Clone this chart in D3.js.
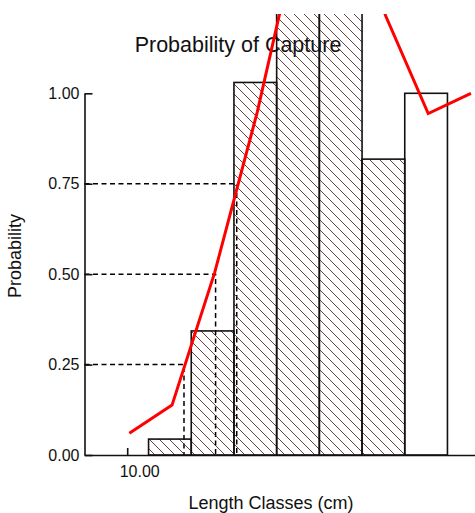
<!DOCTYPE html>
<html>
<head>
<meta charset="utf-8">
<script src="https://cdn.jsdelivr.net/npm/d3@7"></script>
<style>
  html, body { margin: 0; padding: 0; background: #fff; overflow: hidden; }
  text { font-family: "Liberation Sans", Arial, sans-serif; fill: #111; }
</style>
</head>
<body>
<svg id="chart" width="475" height="513"></svg>
<script>
// Length classes (cm) and observed proportions per class
const classMid = [11, 12, 13, 14, 15, 16, 17];
const classProb = [0.044, 0.343, 1.03, 1.6, 1.6, 0.818, 1.0];
const classHatched = [true, true, true, true, true, true, false];

// Fitted capture probability (red line)
const lineLen = [10.05, 11.05, 12.05, 13.05, 14.05, 15.05, 16.05, 17.05, 18.05];
const lineProb = [0.06, 0.138, 0.505, 0.95, 1.47, 1.6, 1.215, 0.944, 1.0];

// L25, L50, L75 markers
const markProb = [0.25, 0.5, 0.75];
const markLen = [11.33, 12.07, 12.565];

const yTicks = [0, 0.25, 0.5, 0.75, 1.0];
const xTicks = [10];

const svg = d3.select('#chart');

// scales - the chart runs past the window on the right and top
const x = d3.scaleLinear().domain([9, 20]).range([84.5, 554.2]);
const y = d3.scaleLinear().domain([0, 1]).range([455, 93.3]);

const defs = svg.append('defs');
defs.append('clipPath')
  .attr('id', 'plotClip')
  .append('rect')
  .attr('x', 0).attr('y', 14)
  .attr('width', 475).attr('height', 460);

const hatch = defs.append('pattern')
  .attr('id', 'hatch')
  .attr('patternUnits', 'userSpaceOnUse')
  .attr('width', 10)
  .attr('height', 10);
hatch.append('path')
  .attr('d', 'M0,0L10,10M-1,9L1,11M9,-1L11,1')
  .style('stroke', '#5a2a2a')
  .style('stroke-width', 0.9);

// title goes under the bars
svg.append('text')
  .attr('x', 238)
  .attr('y', 52)
  .attr('text-anchor', 'middle')
  .style('font-size', '21.5px')
  .text('Probability of Capture');

const plot = svg.append('g').attr('clip-path', 'url(#plotClip)');

// dashed guide lines for L25 / L50 / L75
markProb.forEach((p, i) => {
  plot.append('path')
    .attr('d', `M${x(9)},${y(p)}H${x(markLen[i])}V${y(0)}`)
    .style('fill', 'none')
    .style('stroke', '#000')
    .style('stroke-width', 1.5)
    .style('stroke-dasharray', '5,3.5');
});

// bars
plot.selectAll('rect.bar')
  .data(classMid)
  .enter()
  .append('rect')
  .classed('bar', true)
  .attr('x', d => x(d - 0.5))
  .attr('width', d => x(d + 0.5) - x(d - 0.5))
  .attr('y', (d, i) => y(classProb[i]))
  .attr('height', (d, i) => y(0) - y(classProb[i]))
  .style('fill', (d, i) => classHatched[i] ? 'url(#hatch)' : 'none')
  .style('stroke', '#111')
  .style('stroke-width', 1.6);

// red line
const line = d3.line()
  .x(d => x(d))
  .y((d, i) => y(lineProb[i]));

plot.append('path')
  .datum(lineLen)
  .attr('d', line)
  .style('fill', 'none')
  .style('stroke', '#ff0000')
  .style('stroke-width', 3)
  .style('stroke-linejoin', 'miter');

// axes
const yAxis = d3.axisLeft(y)
  .tickValues(yTicks)
  .tickFormat(d3.format('.2f'))
  .tickSize(-8)
  .tickSizeOuter(0)
  .tickPadding(5);

const gy = svg.append('g')
  .attr('transform', `translate(${x(9)},0)`)
  .call(yAxis);

const xAxis = d3.axisBottom(x)
  .tickValues(xTicks)
  .tickFormat(d3.format('.2f'))
  .tickSize(-7)
  .tickSizeOuter(0)
  .tickPadding(11);

const gx = svg.append('g')
  .attr('transform', `translate(0,${y(0)})`)
  .call(xAxis);

[gx, gy].forEach(g => {
  g.selectAll('path, line').style('stroke', '#111').style('stroke-width', 1.6);
  g.selectAll('text')
    .style('font-size', '16px')
    .style('font-family', '"Liberation Sans", Arial, sans-serif')
    .style('fill', '#111');
});
gx.selectAll('text').attr('dx', 12);

// axis titles
svg.append('text')
  .attr('x', 271)
  .attr('y', 509)
  .attr('text-anchor', 'middle')
  .style('font-size', '18px')
  .text('Length Classes (cm)');

svg.append('text')
  .attr('transform', 'translate(21,256) rotate(-90)')
  .attr('text-anchor', 'middle')
  .style('font-size', '18px')
  .text('Probability');
</script>
</body>
</html>
